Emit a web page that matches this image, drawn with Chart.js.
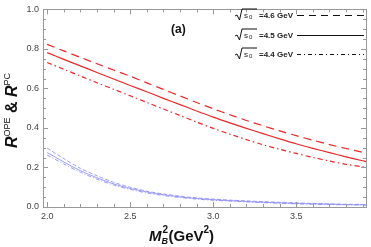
<!DOCTYPE html>
<html>
<head>
<meta charset="utf-8">
<script src="https://cdn.jsdelivr.net/npm/chart.js@4/dist/chart.umd.min.js"></script>
<style>
  html, body { margin: 0; padding: 0; background: #fff; }
  #wrap { width: 371px; height: 247px; }
</style>
</head>
<body>
<div id="wrap"><canvas id="rChart" width="371" height="247"></canvas></div>
<script>
// M_B^2 values (GeV^2)
const mb2 = [2.0, 2.1, 2.2, 2.3, 2.4, 2.5, 2.6, 2.7, 2.8, 2.9, 3.0, 3.1, 3.2, 3.3, 3.4, 3.5, 3.6, 3.7, 3.8, 3.9, 3.92];

// R^OPE (red)
const ope46 = [0.823, 0.790, 0.757, 0.725, 0.693, 0.662, 0.628, 0.595, 0.562, 0.529, 0.497, 0.467, 0.438, 0.411, 0.385, 0.361, 0.338, 0.316, 0.296, 0.277, 0.272];
const ope45 = [0.781, 0.747, 0.714, 0.681, 0.648, 0.615, 0.583, 0.550, 0.518, 0.486, 0.455, 0.426, 0.398, 0.371, 0.345, 0.320, 0.297, 0.275, 0.254, 0.234, 0.230];
const ope44 = [0.731, 0.697, 0.663, 0.629, 0.596, 0.563, 0.529, 0.496, 0.463, 0.430, 0.398, 0.369, 0.341, 0.315, 0.292, 0.271, 0.251, 0.233, 0.216, 0.203, 0.200];

// R^PC (blue)
const pc46 = [0.298, 0.245, 0.196, 0.158, 0.125, 0.100, 0.080, 0.066, 0.055, 0.046, 0.040, 0.035, 0.031, 0.027, 0.024, 0.021, 0.018, 0.016, 0.014, 0.013, 0.012];
const pc45 = [0.276, 0.228, 0.184, 0.148, 0.117, 0.094, 0.076, 0.062, 0.051, 0.043, 0.037, 0.032, 0.028, 0.024, 0.021, 0.018, 0.016, 0.014, 0.012, 0.011, 0.010];
const pc44 = [0.263, 0.218, 0.176, 0.141, 0.111, 0.089, 0.071, 0.058, 0.048, 0.040, 0.034, 0.030, 0.026, 0.022, 0.019, 0.016, 0.014, 0.012, 0.011, 0.010, 0.009];

const legendLabels = ["=4.6 GeV", "=4.5 GeV", "=4.4 GeV"];
const xTicks = [2.0, 2.5, 3.0, 3.5];
const yTicks = [0.0, 0.2, 0.4, 0.6, 0.8, 1.0];

const dashed = [8, 5];
const dashdot = [5, 3, 1.5, 3];
const red = "rgb(238, 40, 40)";
const blue = "rgba(140, 140, 250, 0.85)";

function pts(ys) {
  return mb2.map((x, i) => ({ x: x, y: ys[i] }));
}

function line(ys, color, dash, width) {
  return {
    data: pts(ys),
    borderColor: color,
    borderWidth: width,
    borderDash: dash,
    pointRadius: 0,
    fill: false,
    tension: 0.3,
  };
}

// inward ticks, legend, titles
const decor = {
  id: "decor",
  afterDraw(chart) {
    const ctx = chart.ctx;
    const a = chart.chartArea;
    const xs = chart.scales.x;
    const ys = chart.scales.y;
    ctx.save();
    ctx.strokeStyle = "#999";
    ctx.lineWidth = 1;
    ctx.beginPath();
    for (let i = 20; i <= 39; i++) {
      const v = i / 10;
      const px = Math.round(xs.getPixelForValue(v)) + 0.5;
      const len = i % 5 === 0 ? 5 : 3;
      ctx.moveTo(px, a.bottom);
      ctx.lineTo(px, a.bottom - len);
      ctx.moveTo(px, a.top);
      ctx.lineTo(px, a.top + len);
    }
    for (let i = 0; i <= 20; i++) {
      const v = i / 20;
      const py = Math.round(ys.getPixelForValue(v)) + 0.5;
      const len = i % 4 === 0 ? 5 : 3;
      ctx.moveTo(a.left, py);
      ctx.lineTo(a.left + len, py);
      ctx.moveTo(a.right, py);
      ctx.lineTo(a.right - len, py);
    }
    ctx.stroke();

    // panel label
    ctx.fillStyle = "#111";
    ctx.font = "bold 12px 'Liberation Sans', Arial, sans-serif";
    ctx.textBaseline = "alphabetic";
    ctx.textAlign = "left";
    ctx.fillText("(a)", 171, 33);

    // legend
    const rows = [15, 35, 54];
    const dashes = [[7, 5], [], [4, 3, 1, 3]];
    rows.forEach((cy, k) => {
      ctx.strokeStyle = "#111";
      ctx.lineWidth = 1;
      ctx.setLineDash([]);
      ctx.beginPath();
      ctx.moveTo(235, cy + 1);
      ctx.lineTo(237, cy);
      ctx.lineTo(239.5, cy + 5);
      ctx.lineTo(242, cy - 6);
      ctx.lineTo(257, cy - 6);
      ctx.stroke();
      ctx.fillStyle = "#222";
      ctx.font = "8px 'Liberation Sans', Arial, sans-serif";
      ctx.fillText("s", 244, cy + 3);
      ctx.font = "6px 'Liberation Sans', Arial, sans-serif";
      ctx.fillText("0", 249, cy + 4);
      ctx.font = "bold 8px 'Liberation Sans', Arial, sans-serif";
      ctx.fillText(legendLabels[k], 259, cy + 3);
      ctx.setLineDash(dashes[k]);
      ctx.beginPath();
      ctx.moveTo(297, cy + 0.5);
      ctx.lineTo(364, cy + 0.5);
      ctx.stroke();
    });
    ctx.setLineDash([]);

    // x title: M_B^2(GeV^2)
    ctx.fillStyle = "#111";
    let x = 149;
    const by = 241;
    ctx.font = "italic bold 15px 'Liberation Sans', Arial, sans-serif";
    ctx.fillText("M", x, by);
    x += ctx.measureText("M").width;
    ctx.font = "italic bold 9px 'Liberation Sans', Arial, sans-serif";
    ctx.fillText("B", x, by + 3);
    ctx.font = "bold 10px 'Liberation Sans', Arial, sans-serif";
    ctx.fillText("2", x + 1, by - 8);
    x += 7;
    ctx.font = "bold 15px 'Liberation Sans', Arial, sans-serif";
    ctx.fillText("(GeV", x, by);
    x += ctx.measureText("(GeV").width;
    ctx.font = "bold 10px 'Liberation Sans', Arial, sans-serif";
    ctx.fillText("2", x, by - 8);
    x += ctx.measureText("2").width;
    ctx.font = "bold 15px 'Liberation Sans', Arial, sans-serif";
    ctx.fillText(")", x, by);

    // y title: R^OPE & R^PC
    ctx.save();
    ctx.translate(17, 148);
    ctx.rotate(-Math.PI / 2);
    let t = 0;
    const parts = [
      ["R", "italic bold 16px", 0],
      ["OPE", "9px", -7],
      [" & ", "bold 16px", 0],
      ["R", "italic bold 16px", 0],
      ["PC", "9px", -7],
    ];
    parts.forEach(([s, f, dy]) => {
      ctx.font = f + " 'Liberation Sans', Arial, sans-serif";
      ctx.fillText(s, t, dy);
      t += ctx.measureText(s).width;
    });
    ctx.restore();
    ctx.restore();
  },
};

new Chart(document.getElementById("rChart"), {
  type: "line",
  data: {
    datasets: [
      line(ope46, red, dashed, 1.2),
      line(ope45, red, [], 1.2),
      line(ope44, red, dashdot, 1.2),
      line(pc46, blue, [4, 2], 1),
      line(pc45, blue, [], 1),
      line(pc44, blue, [4, 2, 1, 2], 1),
    ],
  },
  options: {
    responsive: false,
    animation: false,
    layout: { padding: { top: 5, right: 5, left: 0, bottom: 0 } },
    plugins: { legend: { display: false }, tooltip: { enabled: false } },
    scales: {
      x: {
        type: "linear",
        min: 1.975,
        max: 3.92,
        afterBuildTicks(scale) {
          scale.ticks = xTicks.map((v) => ({ value: v }));
        },
        afterFit(scale) {
          scale.height = 40;
        },
        grid: { drawOnChartArea: false, drawTicks: false },
        border: { color: "#999" },
        ticks: {
          padding: 4,
          color: "#444",
          font: { size: 9, family: "'Liberation Sans', Arial, sans-serif" },
          callback: (v) => v.toFixed(1),
          maxRotation: 0,
        },
      },
      y: {
        min: 0,
        max: 1,
        afterBuildTicks(scale) {
          scale.ticks = yTicks.map((v) => ({ value: v }));
        },
        afterFit(scale) {
          scale.width = 43;
        },
        grid: { drawOnChartArea: false, drawTicks: false },
        border: { color: "#999" },
        ticks: {
          padding: 4,
          color: "#444",
          font: { size: 9, family: "'Liberation Sans', Arial, sans-serif" },
          callback: (v) => v.toFixed(1),
        },
      },
      x2: {
        type: "linear",
        position: "top",
        min: 1.975,
        max: 3.92,
        afterFit(scale) {
          scale.height = 0;
        },
        grid: { drawOnChartArea: false, drawTicks: false },
        border: { color: "#999" },
        ticks: { display: false },
      },
      y2: {
        position: "right",
        min: 0,
        max: 1,
        afterFit(scale) {
          scale.width = 0;
        },
        grid: { drawOnChartArea: false, drawTicks: false },
        border: { color: "#999" },
        ticks: { display: false },
      },
    },
  },
  plugins: [decor],
});
</script>
</body>
</html>
